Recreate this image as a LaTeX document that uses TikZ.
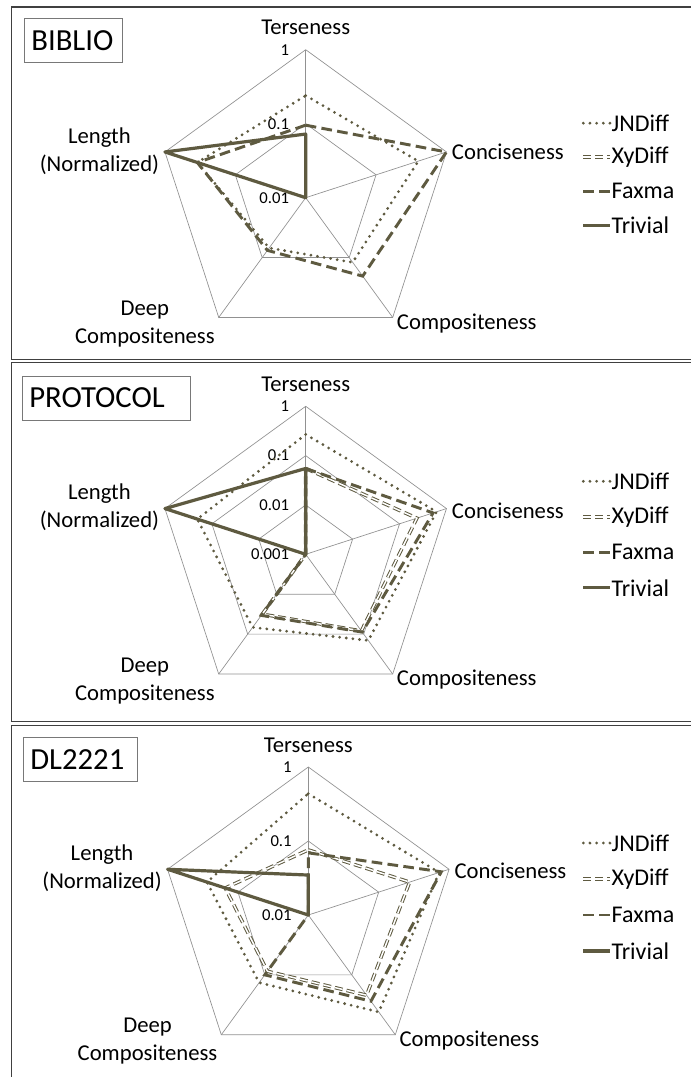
\documentclass[tikz,border=0pt]{standalone}
\usepackage{fontspec}
\setmainfont{Carlito}
\usetikzlibrary{positioning}
\definecolor{seriesolive}{RGB}{94,90,64}
\definecolor{gridgray}{RGB}{145,145,145}
\definecolor{framegray}{RGB}{64,64,64}
\definecolor{boxgray}{RGB}{120,120,120}
\tikzset{
  gridline/.style={gridgray, line width=0.5pt},
  jndline/.style={seriesolive, line width=2.3pt, line cap=round, dash pattern=on 0pt off 5pt},
  xyline/.style={seriesolive, line width=0.75pt, double=white, double distance=1.1pt, dash pattern=on 6pt off 3pt},
  faxline/.style={seriesolive, line width=2.2pt, dash pattern=on 8pt off 4pt},
  trivline/.style={seriesolive, line width=2.4pt, line join=round},
  axislabel/.style={font=\fontsize{17pt}{21pt}\selectfont, align=center, inner sep=0pt},
  ticklabel/.style={font=\fontsize{12.5pt}{15pt}\selectfont, anchor=east, inner sep=0pt},
  legendlabel/.style={font=\fontsize{18pt}{21pt}\selectfont, anchor=west, inner sep=0pt},
  titlebox/.style={draw=boxgray, line width=0.6pt, font=\fontsize{23pt}{27pt}\selectfont,
    anchor=north west, minimum height=33pt, inner xsep=5pt, align=left},
  panelframe/.style={framegray, line width=1pt}
}
\def\R{148}
\begin{document}
\begin{tikzpicture}[x=0.75pt, y=0.75pt]
    \useasboundingbox (0,0) rectangle (691,-1077);
    \clip (0,0) rectangle (691,-1077);
    \fill[white] (0,0) rectangle (691,-1077);

    % panel frames and titles
    \draw[panelframe] (11.5,-7) rectangle (702,-359.3);
    \draw[panelframe] (11.5,-362.7) rectangle (702,-721.7);
    \draw[panelframe] (11.5,-725.7) rectangle (702,-1090);
    \node[titlebox, text width=63pt] (biblio) at (24.3,-18.3) {BIBLIO};
    \node[titlebox, text width=115.8pt] (protocol) at (22.3,-375.7) {PROTOCOL};
    \node[titlebox, text width=75.5pt] (dl) at (23.3,-737.3) {DL2221};

    % BIBLIO
    \begin{scope}[shift={(305.7,-197.7)}]
        \foreach \f in {0.5,1}
            \draw[gridline] (90:\f*\R) -- (18:\f*\R) -- (-54:\f*\R) -- (-126:\f*\R) -- (162:\f*\R) -- cycle;
        \foreach \a in {90,18,-54,-126,162} \draw[gridline] (0,0) -- (\a:\R);
        \node[ticklabel] (t1a) at (-16.4,\R) {1};
        \node[ticklabel] (t1b) at (-16.4,0.5*\R) {0.1};
        \node[ticklabel] (t1c) at (-16.4,0) {0.01};

        \node[axislabel] (terse1) at (0,170) {Terseness};
        \node[axislabel, anchor=west] (conc1) at (146,46) {Conciseness};
        \node[axislabel, anchor=west] (comp1) at (91,-125.6) {Compositeness};
        \node[axislabel, anchor=east] (deep1) at (-90.7,-126.3) {Deep\\Compositeness};
        \node[axislabel, anchor=east] (len1) at (-146.4,46.7) {Length\\(Normalized)};

        \draw[jndline] (90:0.69*\R) -- (18:0.80*\R) -- (-54:0.54*\R) -- (-126:0.42*\R) -- (162:0.77*\R) -- cycle;
        \draw[faxline] (90:0.49*\R) -- (18:\R) -- (-54:0.655*\R) -- (-126:0.44*\R) -- (162:0.77*\R) -- cycle;
        \draw[trivline] (90:0.43*\R) -- (0,0) -- (162:\R) -- cycle;

        \draw[jndline] (277.6,74.5) -- (304.3,74.5) coordinate (jl1);
        \node[legendlabel, right=1pt of jl1] (jn1) {JNDiff};
        \draw[xyline] (277.6,40.5) -- (304.3,40.5) coordinate (xl1);
        \node[legendlabel, right=1pt of xl1] (xn1) {XyDiff};
        \draw[faxline] (277.6,6.5) -- (304.3,6.5) coordinate (fl1);
        \node[legendlabel, right=1pt of fl1] (fn1) {Faxma};
        \draw[trivline] (277.6,-27.5) -- (304.3,-27.5) coordinate (tl1);
        \node[legendlabel, right=1pt of tl1] (tn1) {Trivial};
    \end{scope}

    % PROTOCOL
    \begin{scope}[shift={(305.7,-554.3)}]
        \foreach \f in {0.3333,0.6667,1}
            \draw[gridline] (90:\f*\R) -- (18:\f*\R) -- (-54:\f*\R) -- (-126:\f*\R) -- (162:\f*\R) -- cycle;
        \foreach \a in {90,18,-54,-126,162} \draw[gridline] (0,0) -- (\a:\R);
        \node[ticklabel] (t2a) at (-16.4,\R) {1};
        \node[ticklabel] (t2b) at (-16.4,0.6667*\R) {0.1};
        \node[ticklabel] (t2c) at (-16.4,0.3333*\R) {0.01};
        \node[ticklabel] (t2d) at (-16.4,0) {0.001};

        \node[axislabel] (terse2) at (0,170) {Terseness};
        \node[axislabel, anchor=west] (conc2) at (146,44) {Conciseness};
        \node[axislabel, anchor=west] (comp2) at (91,-125.6) {Compositeness};
        \node[axislabel, anchor=east] (deep2) at (-90.7,-126.3) {Deep\\Compositeness};
        \node[axislabel, anchor=east] (len2) at (-146.4,46.7) {Length\\(Normalized)};

        \draw[jndline] (90:0.81*\R) -- (18:0.93*\R) -- (-54:0.72*\R) -- (-126:0.61*\R) -- (162:0.77*\R) -- cycle;
        \draw[xyline] (90:0.58*\R) -- (18:0.79*\R) -- (-54:0.64*\R) -- (-126:0.50*\R) -- (0,0) -- cycle;
        \draw[faxline] (90:0.58*\R) -- (18:0.905*\R) -- (-54:0.65*\R) -- (-126:0.51*\R) -- (0,0) -- cycle;
        \draw[trivline] (90:0.58*\R) -- (0,0) -- (162:\R) -- cycle;

        \draw[jndline] (277.6,73) -- (304.3,73) coordinate (jl2);
        \node[legendlabel, right=1pt of jl2] (jn2) {JNDiff};
        \draw[xyline] (277.6,37.5) -- (304.3,37.5) coordinate (xl2);
        \node[legendlabel, right=1pt of xl2] (xn2) {XyDiff};
        \draw[faxline] (277.6,2) -- (304.3,2) coordinate (fl2);
        \node[legendlabel, right=1pt of fl2] (fn2) {Faxma};
        \draw[trivline] (277.6,-33.5) -- (304.3,-33.5) coordinate (tl2);
        \node[legendlabel, right=1pt of tl2] (tn2) {Trivial};
    \end{scope}

    % DL2221
    \begin{scope}[shift={(308.3,-915)}]
        \foreach \f in {0.5,1}
            \draw[gridline] (90:\f*\R) -- (18:\f*\R) -- (-54:\f*\R) -- (-126:\f*\R) -- (162:\f*\R) -- cycle;
        \foreach \a in {90,18,-54,-126,162} \draw[gridline] (0,0) -- (\a:\R);
        \node[ticklabel] (t3a) at (-16.4,\R) {1};
        \node[ticklabel] (t3b) at (-16.4,0.5*\R) {0.1};
        \node[ticklabel] (t3c) at (-16.4,0) {0.01};

        \node[axislabel] (terse3) at (0,170) {Terseness};
        \node[axislabel, anchor=west] (conc3) at (146,44) {Conciseness};
        \node[axislabel, anchor=west] (comp3) at (91,-125.6) {Compositeness};
        \node[axislabel, anchor=east] (deep3) at (-90.7,-126.3) {Deep\\Compositeness};
        \node[axislabel, anchor=east] (len3) at (-146.4,46.7) {Length\\(Normalized)};

        \draw[jndline] (90:0.82*\R) -- (18:0.93*\R) -- (-54:0.81*\R) -- (-126:0.565*\R) -- (162:0.72*\R) -- cycle;
        \draw[xyline] (90:0.44*\R) -- (18:0.72*\R) -- (-54:0.67*\R) -- (-126:0.47*\R) -- (162:0.59*\R) -- cycle;
        \draw[faxline] (90:0.42*\R) -- (18:0.945*\R) -- (-54:0.72*\R) -- (-126:0.50*\R) -- (0,0) -- cycle;
        \draw[trivline] (90:0.27*\R) -- (0,0) -- (162:\R) -- cycle;

        \draw[jndline] (275,72) -- (301.7,72) coordinate (jl3);
        \node[legendlabel, right=1pt of jl3] (jn3) {JNDiff};
        \draw[xyline] (275,36) -- (301.7,36) coordinate (xl3);
        \node[legendlabel, right=1pt of xl3] (xn3) {XyDiff};
        \draw[faxline] (275,0) -- (301.7,0) coordinate (fl3);
        \node[legendlabel, right=1pt of fl3] (fn3) {Faxma};
        \draw[trivline] (275,-36) -- (301.7,-36) coordinate (tl3);
        \node[legendlabel, right=1pt of tl3] (tn3) {Trivial};
    \end{scope}
\end{tikzpicture}
\end{document}
